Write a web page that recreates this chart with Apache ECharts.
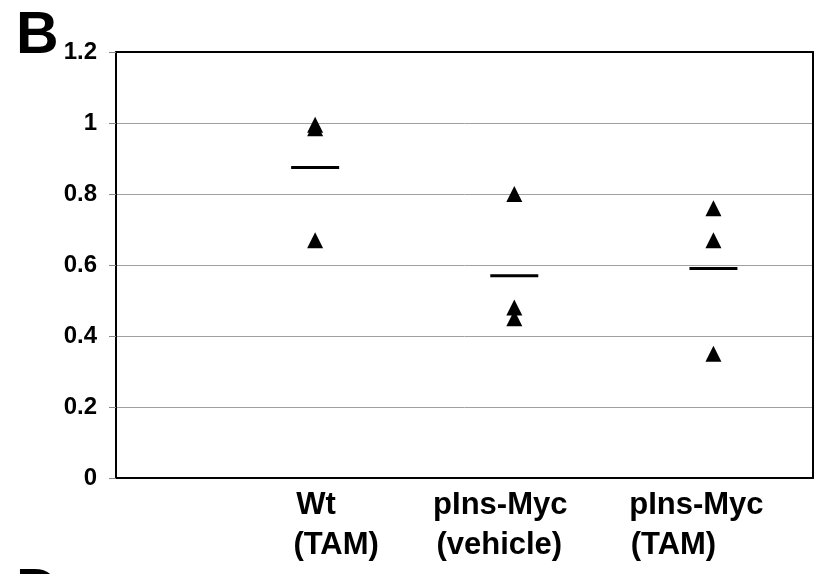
<!DOCTYPE html>
<html>
<head>
<meta charset="utf-8">
<script src="https://cdn.jsdelivr.net/npm/echarts@6/dist/echarts.min.js"></script>
<style>
html, body { margin: 0; padding: 0; background: #fff; }
#chart { width: 823px; height: 574px; }
</style>
</head>
<body>
<div id="chart"></div>
<script>
// groups on the x axis (each label has two lines)
var categories = ['Wt\n(TAM)', 'pIns-Myc\n(vehicle)', 'pIns-Myc\n(TAM)'];
// individual values
var wtTam = [0.995, 0.985, 0.67];
var mycVehicle = [0.80, 0.48, 0.45];
var mycTam = [0.76, 0.67, 0.35];
// group means (horizontal bars)
var means = [0.875, 0.57, 0.59];
var yMin = 0, yMax = 1.2, yStep = 0.2;

var font = '"Liberation Sans", Arial, Helvetica, sans-serif';

function pts(xIndex, arr) {
    return arr.map(function (v) { return [xIndex, v]; });
}

var points = []
    .concat(pts(1, wtTam))
    .concat(pts(2, mycVehicle))
    .concat(pts(3, mycTam));

var meanData = means.map(function (v, i) { return [i + 1, v]; });

// horizontal nudges of each label line (left / right padding)
var lineShift = [[2, 42], [-28, -30], [-34, -80]];
var rich = {};
lineShift.forEach(function (s, i) {
    ['a', 'b'].forEach(function (k, j) {
        var p = s[j];
        rich['c' + i + k] = {
            fontFamily: font,
            fontWeight: 'bold',
            fontSize: 31,
            lineHeight: 40,
            color: '#000',
            padding: p >= 0 ? [0, 0, 0, p] : [0, -p, 0, 0]
        };
    });
});

var chart = echarts.init(document.getElementById('chart'));
var option = {
    backgroundColor: '#fff',
    animation: false,
    grid: { left: 116, right: 10, top: 52, bottom: 96 },
    graphic: [
        {
            type: 'text', left: 16, top: 7,
            style: { text: 'B', fontFamily: font, fontWeight: 'bold', fontSize: 59, fill: '#000' }
        },
        {
            type: 'text', left: 16, top: 564,
            style: { text: 'D', fontFamily: font, fontWeight: 'bold', fontSize: 59, fill: '#000' }
        }
    ],
    xAxis: [{
        type: 'value',
        min: 0,
        max: 3.5,
        interval: 1,
        position: 'bottom',
        axisLine: { show: true, lineStyle: { color: '#000', width: 2 } },
        axisTick: { show: false },
        splitLine: { show: false },
        axisLabel: {
            margin: 7,
            align: 'center',
            verticalAlign: 'top',
            rich: rich,
            formatter: function (v) {
                var i = Math.round(v) - 1;
                if (Math.abs(v - Math.round(v)) > 1e-6 || i < 0 || i >= categories.length) return '';
                var lines = categories[i].split('\n');
                return '{c' + i + 'a|' + lines[0] + '}\n{c' + i + 'b|' + lines[1] + '}';
            }
        }
    }, {
        type: 'value',
        min: 0,
        max: 3.5,
        position: 'top',
        axisLine: { show: true, onZero: false, lineStyle: { color: '#000', width: 2 } },
        axisTick: { show: false },
        axisLabel: { show: false },
        splitLine: { show: false }
    }],
    yAxis: [{
        type: 'value',
        min: yMin,
        max: yMax,
        interval: yStep,
        axisLine: { show: true, lineStyle: { color: '#000', width: 2 } },
        axisTick: { show: true, length: 7, lineStyle: { color: '#888', width: 1 } },
        splitLine: { show: true, lineStyle: { color: '#a0a0a0', width: 1 } },
        axisLabel: {
            margin: 19,
            color: '#000',
            fontFamily: font,
            fontWeight: 'bold',
            fontSize: 24
        }
    }, {
        type: 'value',
        min: yMin,
        max: yMax,
        position: 'right',
        axisLine: { show: true, onZero: false, lineStyle: { color: '#000', width: 2 } },
        axisTick: { show: false },
        axisLabel: { show: false },
        splitLine: { show: false }
    }],
    series: [{
        name: 'values',
        type: 'scatter',
        symbol: 'triangle',
        symbolSize: 16,
        itemStyle: { color: '#000', opacity: 1 },
        data: points,
        z: 3
    }, {
        name: 'mean',
        type: 'scatter',
        symbol: 'rect',
        symbolSize: [48, 3],
        itemStyle: { color: '#000', opacity: 1 },
        data: meanData,
        z: 3
    }]
};
chart.setOption(option);
</script>
</body>
</html>
